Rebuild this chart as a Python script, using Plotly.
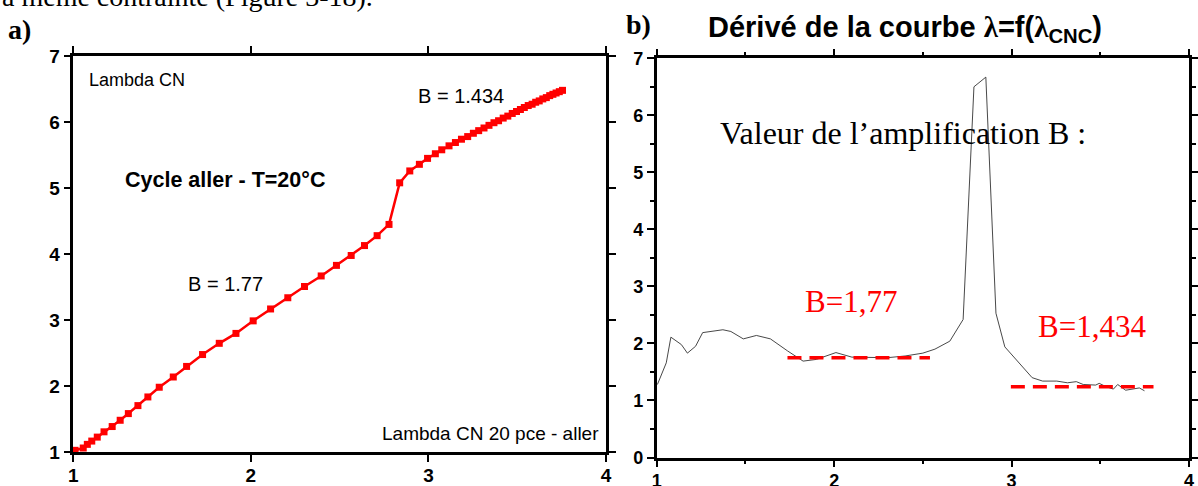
import plotly.graph_objects as go

# ---- data: panel a) lambda curve (cycle aller, T=20 C) ----
lam_x = [1.01, 1.056, 1.079, 1.104, 1.135, 1.173, 1.219, 1.264, 1.31, 1.364,
         1.42, 1.484, 1.563, 1.638, 1.728, 1.822, 1.916, 2.013, 2.111, 2.208,
         2.302, 2.396, 2.482, 2.565, 2.64, 2.711, 2.778,
         2.838, 2.895, 2.949, 2.995, 3.039, 3.075, 3.116, 3.152, 3.186, 3.221,
         3.253, 3.283, 3.313, 3.341, 3.369, 3.395, 3.421, 3.447, 3.472, 3.496,
         3.518, 3.54, 3.562, 3.584, 3.604, 3.624, 3.644, 3.664, 3.683, 3.701,
         3.719, 3.737, 3.755]
lam_y = [1.03, 1.065, 1.12, 1.17, 1.23, 1.31, 1.39, 1.485, 1.586, 1.707,
         1.838, 1.985, 2.14, 2.30, 2.48, 2.65, 2.80, 2.99, 3.17, 3.34,
         3.51, 3.67, 3.83, 3.98, 4.13, 4.28, 4.45,
         5.08, 5.26, 5.36, 5.45, 5.52, 5.58, 5.64, 5.69, 5.74, 5.78,
         5.83, 5.87, 5.91, 5.95, 5.99, 6.02, 6.06, 6.09, 6.13, 6.16,
         6.19, 6.22, 6.25, 6.27, 6.30, 6.32, 6.35, 6.37, 6.40, 6.42,
         6.44, 6.46, 6.48]

# ---- data: panel b) derivative of the curve ----
der_x = [1.004, 1.054, 1.08, 1.139, 1.173, 1.219, 1.259, 1.313, 1.373, 1.418,
         1.488, 1.562, 1.641, 1.737, 1.825, 1.90, 2.01, 2.10, 2.20, 2.30,
         2.40, 2.50, 2.568, 2.652, 2.727, 2.788, 2.855, 2.912, 2.962, 3.037,
         3.116, 3.175, 3.255, 3.315, 3.365, 3.404, 3.474, 3.494, 3.534, 3.574,
         3.598, 3.643, 3.693, 3.72, 3.749]
der_y = [1.28, 1.66, 2.11, 1.98, 1.83, 1.95, 2.19, 2.21, 2.24, 2.21,
         2.08, 2.14, 2.08, 1.87, 1.69, 1.72, 1.84, 1.76, 1.75, 1.75,
         1.78, 1.83, 1.90, 2.04, 2.42, 6.50, 6.67, 2.53, 1.94, 1.68,
         1.40, 1.34, 1.34, 1.31, 1.33, 1.28, 1.27, 1.30, 1.24, 1.20,
         1.28, 1.18, 1.21, 1.22, 1.17]

# plateau levels (red dashed)
b1_x = [1.737, 2.54]
b1_y = [1.75, 1.75]
b2_x = [2.996, 3.80]
b2_y = [1.24, 1.24]

# tick labels
a_xticks = [1, 2, 3, 4]
a_yticks = [1, 2, 3, 4, 5, 6, 7]
b_xticks = [1, 2, 3, 4]
b_yticks = [0, 1, 2, 3, 4, 5, 6, 7]

W, H = 1198, 486
SANS = "Liberation Sans, Arial, sans-serif"
SERIF = "Liberation Serif, Times New Roman, serif"
RED = "#ff0000"


def px(x):
    return x / W


def py(y):
    return 1 - y / H


def bold_ticks(vals):
    return dict(tickmode="array", tickvals=vals, ticktext=[f"<b>{v}</b>" for v in vals])


fig = go.Figure()

fig.add_trace(go.Scatter(
    x=lam_x, y=lam_y, mode="lines+markers", xaxis="x", yaxis="y",
    line=dict(color=RED, width=2.5),
    marker=dict(symbol="square", size=7, color=RED),
    cliponaxis=False, showlegend=False,
))

fig.add_trace(go.Scatter(
    x=der_x, y=der_y, mode="lines", xaxis="x2", yaxis="y2",
    line=dict(color="#333333", width=0.9), showlegend=False,
))
for bx, by in ((b1_x, b1_y), (b2_x, b2_y)):
    fig.add_trace(go.Scatter(
        x=bx, y=by, mode="lines", xaxis="x2", yaxis="y2",
        line=dict(color=RED, width=3.5, dash="14px,8px"), showlegend=False,
    ))


def axis(size, **kw):
    return dict(
        showline=True, linecolor="black", linewidth=2.5, mirror="ticks",
        ticks="outside", ticklen=7, tickwidth=2, tickcolor="black",
        showgrid=False, zeroline=False, automargin=False, fixedrange=True,
        tickfont=dict(family=SANS, size=size, color="black"),
        **kw,
    )


minor = dict(dtick=0.5, ticklen=4, tickwidth=2, tickcolor="black", showgrid=False)

fig.update_layout(
    width=W, height=H,
    margin=dict(l=0, r=0, t=0, b=0, pad=0),
    paper_bgcolor="white", plot_bgcolor="white",
    xaxis=axis(19, domain=[px(73.3), px(606)], range=[1, 4], anchor="y",
               ticklabelstandoff=-3, **bold_ticks(a_xticks)),
    yaxis=axis(19, domain=[py(452.3), py(56)], range=[1, 7], anchor="x",
               **bold_ticks(a_yticks)),
    xaxis2=axis(18, domain=[px(656.7), px(1189)], range=[1, 4], anchor="y2",
                ticklabelstandoff=-2, minor=minor, **bold_ticks(b_xticks)),
    yaxis2=axis(18, domain=[py(457.5), py(58.3)], range=[0, 7], anchor="x2",
                minor=minor, **bold_ticks(b_yticks)),
)

ann = []


def note(text, x, y, xref, yref, size, family=SANS, color="black", xanchor="left", bold=False):
    ann.append(dict(
        text=f"<b>{text}</b>" if bold else text, x=x, y=y, xref=xref, yref=yref,
        xanchor=xanchor, yanchor="middle", showarrow=False,
        font=dict(family=family, size=size, color=color),
    ))


# page text around the figure
note("à même contrainte (Figure 3-18).", 0, py(-3), "paper", "paper", 28, SERIF)
note("a)", px(6), py(29), "paper", "paper", 28, SERIF, bold=True)
note("b)", px(624), py(24), "paper", "paper", 28, SERIF, bold=True)
note("Dérivé de la courbe <span style='font-family:Liberation Serif'>λ</span>=f("
     "<span style='font-family:Liberation Serif'>λ</span><sub>CNC</sub>)",
     px(905), py(29), "paper", "paper", 29, bold=True, xanchor="center")

# panel a) labels
note("Lambda CN", 1.075, 6.64, "x", "y", 18)
note("B = 1.434", 2.929, 6.39, "x", "y", 20)
note("Cycle aller - T=20°C", 1.282, 5.12, "x", "y", 21.5, bold=True)
note("B = 1.77", 1.634, 3.545, "x", "y", 20)
note("Lambda CN 20 pce - aller", 3.974, 1.29, "x", "y", 19, xanchor="right")

# panel b) labels
note("Valeur de l’amplification B :", 1.345, 5.69, "x2", "y2", 32, SERIF)
note("B=1,77", 1.822, 2.73, "x2", "y2", 31, SERIF, color=RED)
note("B=1,434", 3.135, 2.30, "x2", "y2", 31, SERIF, color=RED)

fig.update_layout(annotations=ann)

# the page's default 8px body margin would shift the whole figure
fig.write_html("out.html", config={"displayModeBar": False},
               post_script="document.body.style.margin='0';")
